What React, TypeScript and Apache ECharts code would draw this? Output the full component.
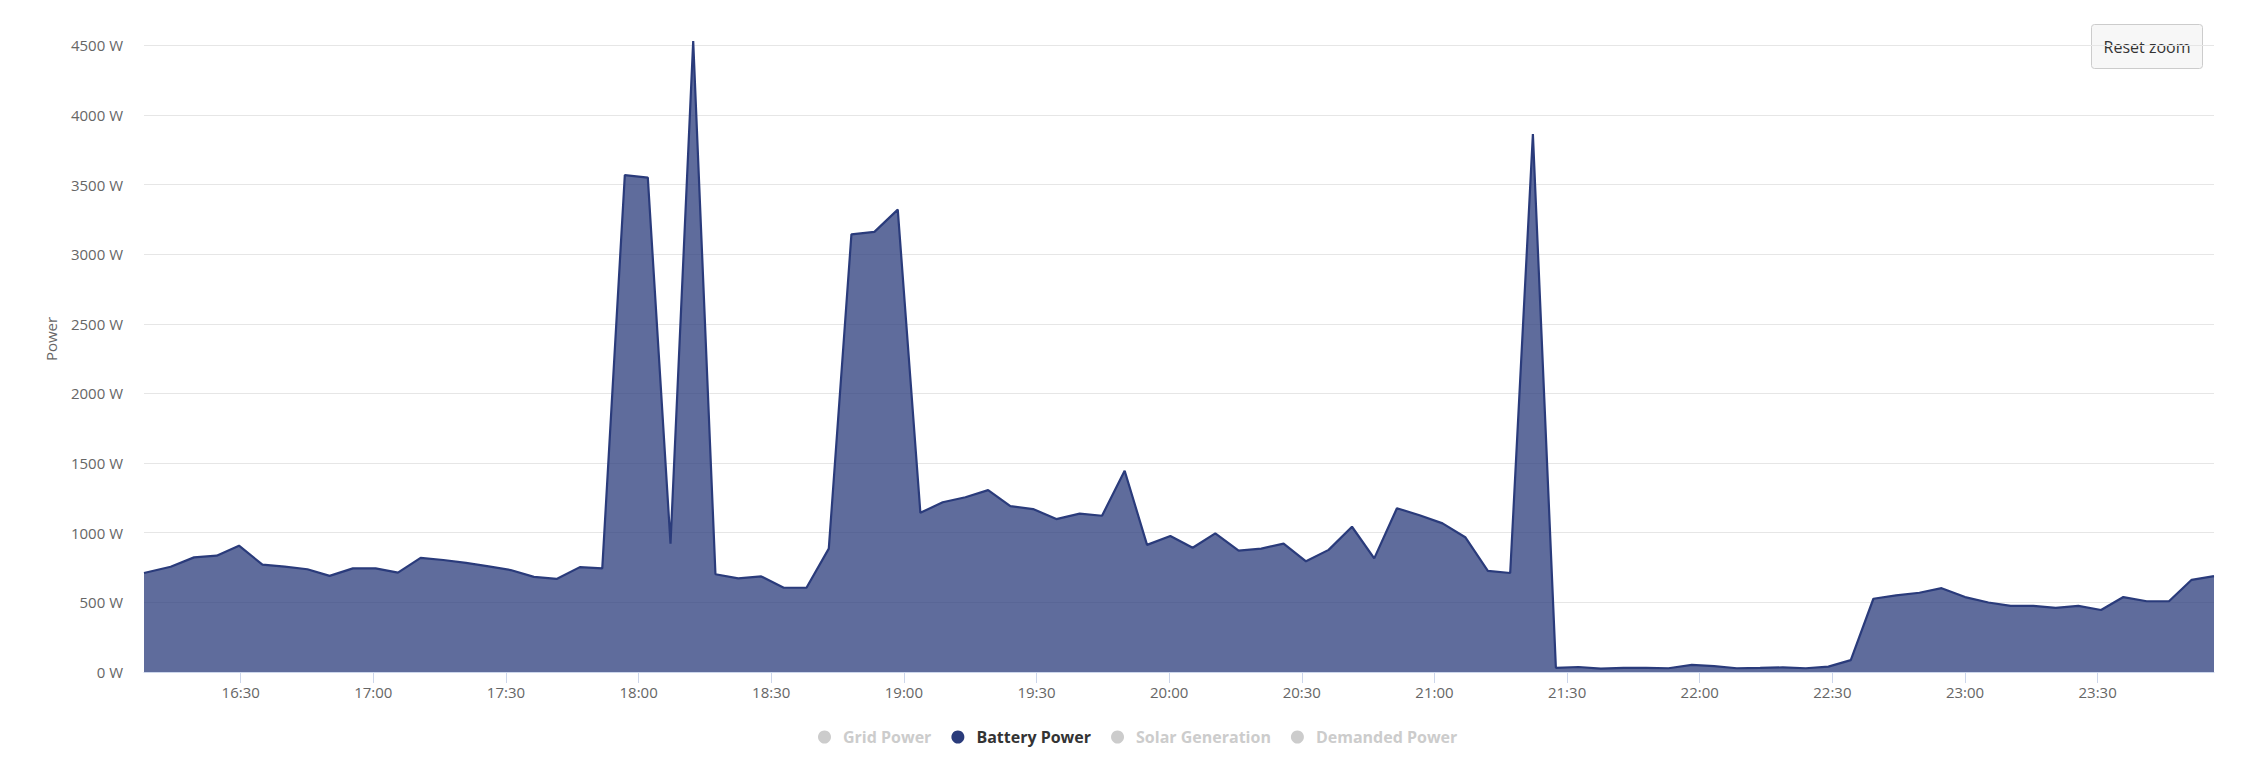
import React, { useEffect, useRef } from "react";
import * as echarts from "echarts";

// Sample times (local clock) and Battery Power values in W
const TIMES: string[] = [
  "16:08:08", "16:14:10", "16:19:27", "16:24:34", "16:29:37", "16:34:55", "16:39:57", "16:45:05",
  "16:50:07", "16:55:23", "17:00:31", "17:05:34", "17:10:42", "17:15:50", "17:20:58", "17:26:05",
  "17:31:03", "17:36:19", "17:41:27", "17:46:43", "17:51:47", "17:56:53", "18:02:05", "18:07:13",
  "18:12:21", "18:17:23", "18:22:32", "18:27:44", "18:32:50", "18:37:58", "18:43:01", "18:48:08",
  "18:53:20", "18:58:37", "19:03:44", "19:08:47", "19:13:55", "19:19:03", "19:24:05", "19:29:13",
  "19:34:29", "19:39:46", "19:44:49", "19:49:56", "19:55:00", "20:00:16", "20:05:19", "20:10:26",
  "20:15:43", "20:20:50", "20:25:53", "20:30:57", "20:36:04", "20:41:21", "20:46:23", "20:51:31",
  "20:56:38", "21:01:50", "21:06:58", "21:12:05", "21:17:08", "21:22:16", "21:27:28", "21:32:35",
  "21:37:38", "21:42:45", "21:47:53", "21:52:56", "21:58:13", "22:03:16", "22:08:23", "22:13:40",
  "22:18:47", "22:23:59", "22:29:06", "22:34:10", "22:39:17", "22:44:25", "22:49:41", "22:54:42",
  "23:00:01", "23:05:17", "23:10:20", "23:15:27", "23:20:31", "23:25:38", "23:30:46", "23:35:49",
  "23:41:06", "23:46:08", "23:51:16", "23:56:19",
];

const BATTERY_POWER: number[] = [
  711, 756, 823, 835, 907, 771, 756, 738,
  690, 744, 744, 714, 820, 804, 783, 759,
  732, 683, 668, 753, 744, 3568, 3550, 922,
  4530, 702, 672, 686, 605, 605, 886, 3142,
  3160, 3320, 1143, 1219, 1255, 1306, 1191, 1170,
  1098, 1137, 1122, 1445, 913, 977, 892, 995,
  871, 886, 922, 795, 877, 1043, 816, 1176,
  1125, 1067, 968, 726, 711, 3862, 30, 36,
  24, 30, 29, 27, 51, 42, 27, 30,
  33, 27, 39, 85, 526, 550, 569, 602,
  538, 499, 475, 475, 460, 475, 445, 538,
  508, 508, 662, 689,
];

const SERIES_NAMES: string[] = ["Grid Power", "Battery Power", "Solar Generation", "Demanded Power"];

const FONT = '"Open Sans", "Noto Sans", sans-serif';
const TICK_STEP = 35 * 60 * 1000; // approx step; the time scale rounds it to 30-minute ticks

function toMs(t: string): number {
  const [h, m, s] = t.split(":").map((p) => parseInt(p, 10));
  return new Date(2024, 5, 1, h, m, s || 0).getTime();
}

function pad(n: number): string {
  return n < 10 ? "0" + n : String(n);
}

export default function App() {
  const ref = useRef<HTMLDivElement>(null);

  useEffect(() => {
    if (!ref.current) return;
    const chart = echarts.init(ref.current, undefined, { renderer: "svg" });

    const batteryData = TIMES.map((t, i) => [toMs(t), BATTERY_POWER[i]]);

    const option: any = {
      animation: false,
      backgroundColor: "#ffffff",
      textStyle: { fontFamily: FONT },
      grid: { left: 136, right: 22, top: 37.3, bottom: 86 },
      legend: {
        data: SERIES_NAMES,
        left: 810,
        top: 721,
        padding: 0,
        itemGap: 20,
        itemWidth: 13,
        itemHeight: 13,
        icon: "circle",
        inactiveColor: "#cccccc",
        selected: {
          "Grid Power": false,
          "Battery Power": true,
          "Solar Generation": false,
          "Demanded Power": false,
        },
        textStyle: {
          fontFamily: FONT,
          fontSize: 16,
          fontWeight: "bold",
          color: "#333333",
          padding: [0, 0, 0, 7],
        },
      },
      xAxis: {
        type: "time",
        min: batteryData[0][0],
        max: batteryData[batteryData.length - 1][0],
        minInterval: TICK_STEP,
        maxInterval: TICK_STEP,
        splitNumber: 13,
        axisLine: { show: true, lineStyle: { color: "#ccd6eb", width: 1 } },
        axisTick: {
          show: true,
          length: 11,
          lineStyle: { color: "#ccd6eb", width: 1 },
        },
        axisLabel: {
          margin: 12,
          color: "#666666",
          fontSize: 15,
          fontFamily: FONT,
          showMinLabel: false,
          showMaxLabel: false,
          formatter: (v: number) => {
            const d = new Date(v);
            return pad(d.getHours()) + ":" + pad(d.getMinutes());
          },
        },
        splitLine: { show: false },
      },
      yAxis: {
        type: "value",
        min: 0,
        max: 4500,
        interval: 500,
        axisLine: { show: false },
        axisTick: { show: false },
        axisLabel: {
          margin: 21,
          color: "#666666",
          fontSize: 15,
          fontFamily: FONT,
          formatter: (v: number) => String(v) + " W",
        },
        splitLine: { show: true, lineStyle: { color: "#e6e6e6", width: 1 } },
      },
      series: [
        {
          name: "Grid Power",
          type: "line",
          data: [],
          color: "#7cb5ec",
          symbol: "none",
        },
        {
          name: "Battery Power",
          type: "line",
          data: batteryData,
          color: "#2a3b7b",
          symbol: "none",
          showSymbol: false,
          clip: false,
          lineStyle: { width: 2.2, color: "#2a3b7b" },
          areaStyle: { color: "#2a3b7b", opacity: 0.75 },
        },
        {
          name: "Solar Generation",
          type: "line",
          data: [],
          color: "#90ed7d",
          symbol: "none",
        },
        {
          name: "Demanded Power",
          type: "line",
          data: [],
          color: "#f7a35c",
          symbol: "none",
        },
      ],
      graphic: [
        {
          type: "text",
          x: 43,
          y: 331,
          rotation: Math.PI / 2,
          style: {
            text: "Power",
            fill: "#666666",
            font: `15px ${FONT}`,
            align: "center",
            verticalAlign: "middle",
          },
        },
        {
          type: "group",
          x: 2083,
          y: 16,
          children: [
            {
              type: "rect",
              shape: { x: 0.5, y: 0.5, width: 111, height: 44, r: 3 },
              style: { fill: "#f7f7f7", stroke: "#cccccc", lineWidth: 1 },
            },
            {
              type: "text",
              x: 56,
              y: 22.5,
              style: {
                text: "Reset zoom",
                fill: "#333333",
                font: `16px ${FONT}`,
                align: "center",
                verticalAlign: "middle",
              },
            },
          ],
        },
      ],
    };

    chart.setOption(option);
    return () => {
      chart.dispose();
    };
  }, []);

  return <div ref={ref} style={{ width: 2228, height: 750 }} />;
}
